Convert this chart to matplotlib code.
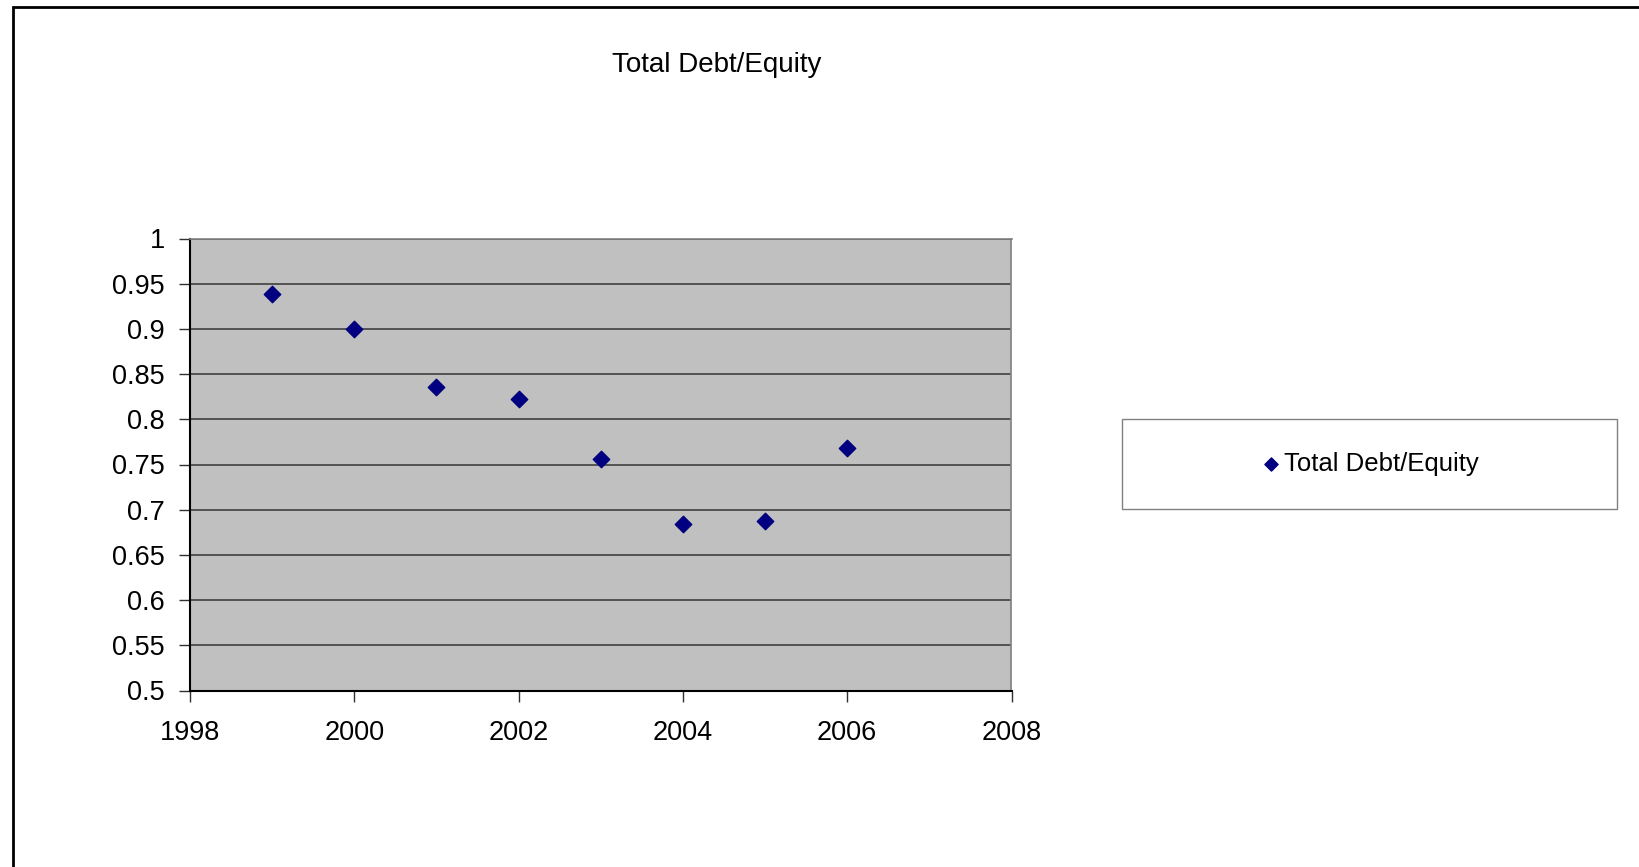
import matplotlib
matplotlib.use("Agg")
import matplotlib.pyplot as plt
from matplotlib.patches import Rectangle

# ---- data ----
years = [1999, 2000, 2001, 2002, 2003, 2004, 2005, 2006]
debt_equity = [0.939, 0.900, 0.836, 0.822, 0.756, 0.684, 0.687, 0.768]
y_ticks = [0.5, 0.55, 0.6, 0.65, 0.7, 0.75, 0.8, 0.85, 0.9, 0.95, 1]
y_tick_labels = ["0.5", "0.55", "0.6", "0.65", "0.7", "0.75", "0.8", "0.85", "0.9", "0.95", "1"]
x_ticks = [1998, 2000, 2002, 2004, 2006, 2008]
series_name = "Total Debt/Equity"

plt.rcParams['font.family'] = ['Liberation Sans', 'DejaVu Sans']

W, H = 1640, 867
fig = plt.figure(figsize=(W / 100, H / 100), dpi=100)

# outer chart-area border (only top/left visible in the reference)
fig.patches.append(Rectangle((12.7 / W, -0.05), 1.1, 1 - 6.7 / H + 0.05,
                             transform=fig.transFigure, fill=False,
                             edgecolor='black', linewidth=2))

ax = fig.add_axes([190 / W, 1 - 690.5 / H, (1011.5 - 190) / W, (690.5 - 238.5) / H])
ax.set_facecolor('#C0C0C0')
ax.scatter(years, debt_equity, marker='D', s=70, color='#000080', zorder=3,
           label=series_name)

ax.set_xlim(1998, 2008)
ax.set_ylim(0.5, 1)
ax.set_xticks(x_ticks)
ax.set_xticklabels([str(x) for x in x_ticks])
ax.set_yticks(y_ticks)
ax.set_yticklabels(y_tick_labels)
ax.grid(axis='y', color='#404040', linewidth=1.2)
ax.set_axisbelow(True)
ax.tick_params(axis='both', labelsize=19.5, direction='out', length=8,
               color='#303030', width=1)
ax.tick_params(axis='x', pad=13)
ax.tick_params(axis='y', pad=10)
for side in ['top', 'right']:
    ax.spines[side].set_color('#808080')
    ax.spines[side].set_linewidth(1.2)
for side in ['left', 'bottom']:
    ax.spines[side].set_color('black')
    ax.spines[side].set_linewidth(1.5)

fig.text(717 / W, 1 - 65 / H, series_name, ha='center', va='center', fontsize=20)

# legend box
lx0, lx1, ly0, ly1 = 1122, 1617, 419, 509
fig.patches.append(Rectangle((lx0 / W, 1 - ly1 / H), (lx1 - lx0) / W, (ly1 - ly0) / H,
                             transform=fig.transFigure, fill=False,
                             edgecolor='#808080', linewidth=1))
h, l = ax.get_legend_handles_labels()
fig.legend(h, l, loc='center', bbox_to_anchor=((lx0 + lx1) / 2 / W, 1 - 464 / H),
           frameon=False, fontsize=18.5, handletextpad=0.1, handlelength=0.8,
           markerscale=0.8)

fig.savefig("out.png", dpi=100)
